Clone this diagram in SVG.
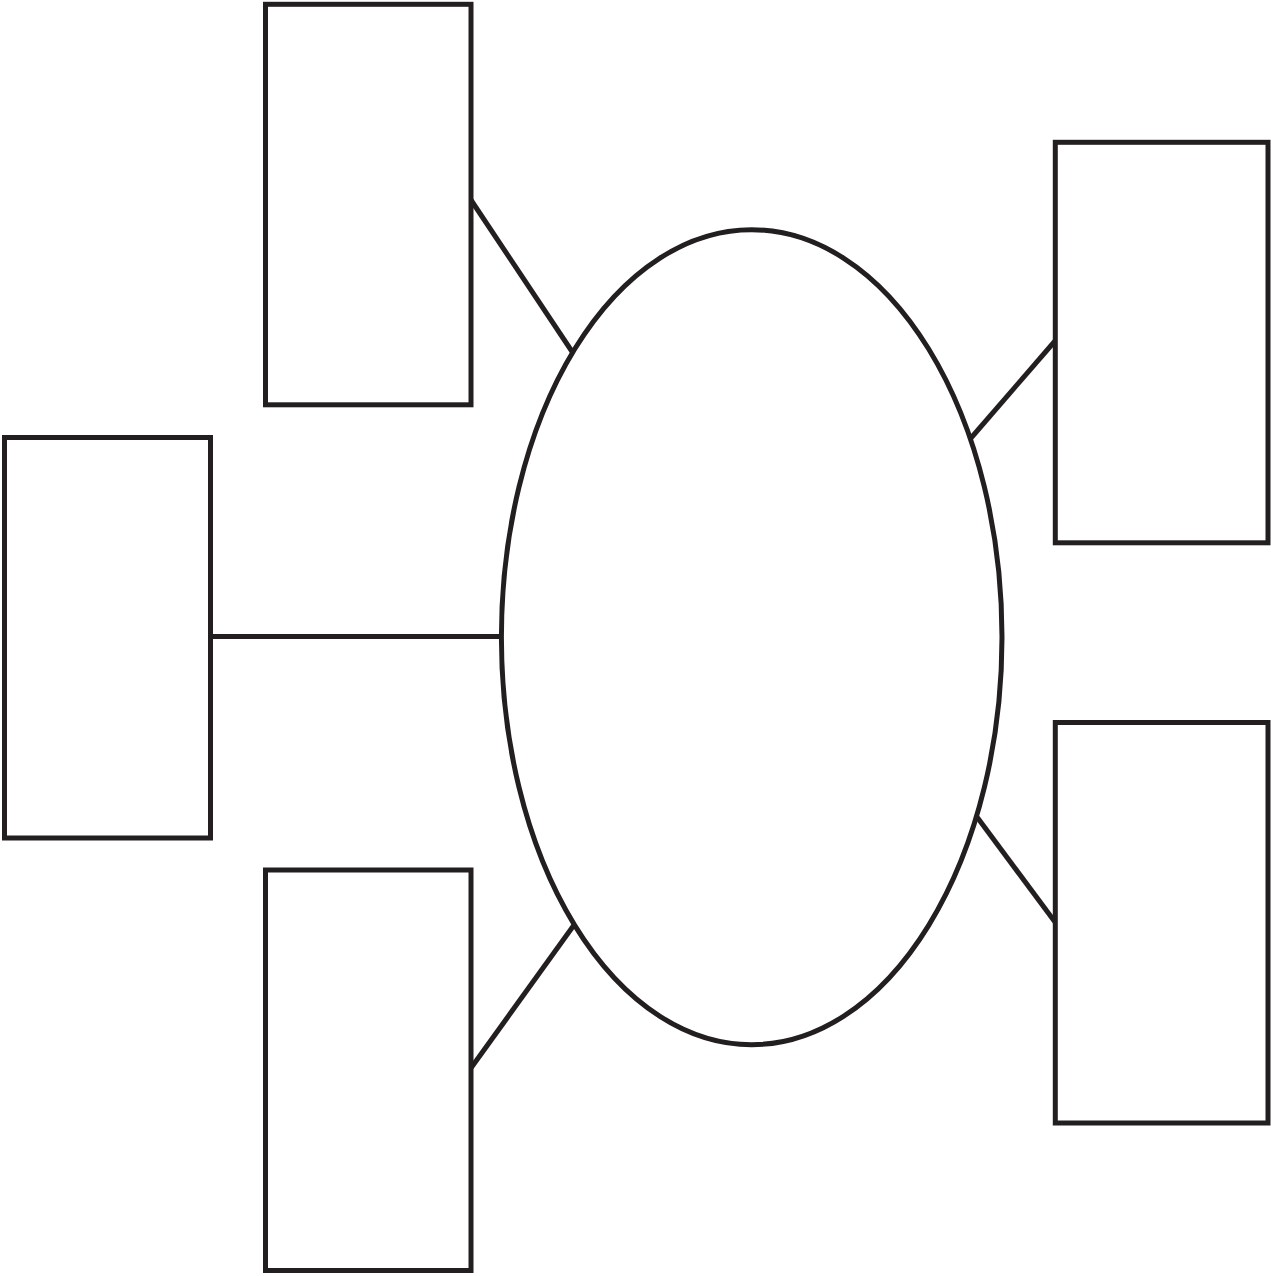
<svg xmlns="http://www.w3.org/2000/svg" width="1271" height="1276" viewBox="0 0 1271 1276">
<style>
.n{fill:#fff;stroke:#231f20;stroke-width:5}
.c line{stroke:#231f20;stroke-width:5}
</style>
<rect width="1271" height="1276" fill="#fff"/>
<g class="c" id="connectors">
<line x1="471" y1="200" x2="573" y2="353"/>
<line x1="210" y1="636.5" x2="502" y2="636.5"/>
<line x1="471" y1="1068" x2="574" y2="925"/>
<line x1="1055" y1="341" x2="971" y2="438"/>
<line x1="977" y1="817" x2="1055" y2="922"/>
</g>
<g id="center"><ellipse class="n" cx="751.7" cy="637.2" rx="250.3" ry="407.5"/></g>
<g id="box-top-left"><rect class="n" x="265.5" y="4.3" width="205.5" height="400.5"/></g>
<g id="box-left"><rect class="n" x="4.5" y="437.5" width="206" height="400.5"/></g>
<g id="box-bottom-left"><rect class="n" x="265.5" y="870" width="205.5" height="400.5"/></g>
<g id="box-right-top"><rect class="n" x="1055.3" y="142.3" width="212.7" height="400.5"/></g>
<g id="box-right-bottom"><rect class="n" x="1055.3" y="722.5" width="212.7" height="400.5"/></g>
</svg>
